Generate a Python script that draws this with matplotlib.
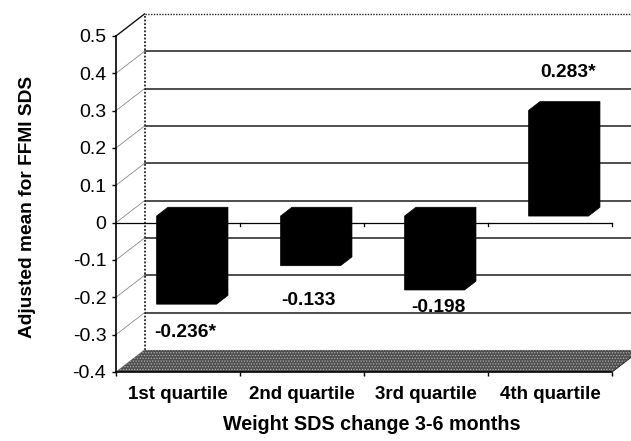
import matplotlib
matplotlib.use("Agg")
import matplotlib.pyplot as plt
from matplotlib.patches import Polygon
import numpy as np

plt.rcParams['font.family'] = ['Liberation Sans', 'DejaVu Sans']

# Data
categories = ["1st quartile", "2nd quartile", "3rd quartile", "4th quartile"]
values = [-0.236, -0.133, -0.198, 0.283]
value_labels = ["-0.236*", "-0.133", "-0.198", "0.283*"]
yticks = [-0.4, -0.3, -0.2, -0.1, 0.0, 0.1, 0.2, 0.3, 0.4, 0.5]
ytick_labels = ["-0.4", "-0.3", "-0.2", "-0.1", "0", "0.1", "0.2", "0.3", "0.4", "0.5"]

# label anchor points (category units, value units)
label_pos = [(0.56, -0.295), (1.55, -0.209), (2.60, -0.228), (3.645, 0.402)]

YMIN, YMAX = -0.4, 0.5
N = len(categories)
DX, DY = 0.23, 0.059        # depth of the 3-D box in data units
F0, F1 = 0.3, 0.7           # bar depth span as fraction of the box depth
BAR_W = 0.484

fig = plt.figure(figsize=(6.31, 4.41), dpi=100)
ax = fig.add_axes([116 / 631, 69 / 441, 496 / 631, 336 / 441])
ax.set_xlim(0, N)
ax.set_ylim(YMIN, YMAX)
ax.patch.set_visible(False)

# back wall gridlines
for v in yticks[1:-1]:
    ax.plot([DX, N + DX], [v + DY, v + DY], color="#303030", lw=1.2,
            clip_on=False, zorder=1)
# back wall top and left edge (dotted)
ax.plot([DX, N + DX], [YMAX + DY, YMAX + DY], color="#222222", lw=1.0,
        ls=(0, (1, 1)), clip_on=False, zorder=1)
ax.plot([DX, DX], [YMIN + DY, YMAX + DY], color="#222222", lw=1.3,
        ls=(0, (1, 1)), clip_on=False, zorder=1)

# side wall gridlines
for v in yticks[:-1]:
    ax.plot([0, DX], [v, v + DY], color="#8a8a8a", lw=0.6,
            clip_on=False, zorder=1)
ax.plot([0, DX], [YMAX, YMAX + DY], color="#111111", lw=1.0,
        clip_on=False, zorder=1)

# floor
floor = [(0, YMIN), (DX, YMIN + DY), (N + DX, YMIN + DY), (N, YMIN)]
ax.add_patch(Polygon(floor, closed=True, facecolor="#4e4e4e", edgecolor="none",
                     clip_on=False, zorder=2))
plt.rcParams['hatch.linewidth'] = 0.6
ax.add_patch(Polygon(floor, closed=True, facecolor="none", edgecolor="#b0b0b0",
                     hatch="......", lw=0, clip_on=False, zorder=2))
ax.plot([0, N], [YMIN, YMIN], color="black", lw=1.2, clip_on=False, zorder=3)
ax.plot([N, N + DX], [YMIN, YMIN + DY], color="#333333", lw=0.8,
        clip_on=False, zorder=3)

# category axis at zero
ax.plot([0, N], [0, 0], color="black", lw=0.9, clip_on=False, zorder=2)
for i in range(1, N + 1):
    ax.plot([i, i], [0, -0.01], color="black", lw=0.9, clip_on=False, zorder=2)

# bars
for i, v in enumerate(values):
    x0 = i + 0.5 - BAR_W / 2 + F0 * DX
    x1 = x0 + BAR_W
    lo, hi = min(0, v), max(0, v)
    ddx = (F1 - F0) * DX
    ddy = (F1 - F0) * DY
    ylo = lo + F0 * DY
    yhi = hi + F0 * DY
    pts = [(x0, ylo), (x0, yhi), (x0 + ddx, yhi + ddy), (x1 + ddx, yhi + ddy),
           (x1 + ddx, ylo + ddy), (x1, ylo)]
    ax.add_patch(Polygon(pts, closed=True, facecolor="black", edgecolor="black",
                         lw=0.5, clip_on=False, zorder=4))

# value labels
for (lx, ly), txt in zip(label_pos, value_labels):
    ax.text(lx, ly, txt, ha="center", va="center", fontsize=13.8,
            fontweight="bold", zorder=5)

# axes
for s in ["top", "right", "bottom"]:
    ax.spines[s].set_visible(False)
ax.spines["left"].set_linewidth(1.2)
ax.set_yticks(yticks)
ax.set_yticklabels(ytick_labels)
ax.tick_params(axis="y", direction="out", length=3, width=1, pad=4,
               labelsize=14)
ax.set_xticks(np.arange(N) + 0.5)
ax.set_xticklabels(categories, fontsize=13.5, fontweight="bold")
ax.set_xticks(np.arange(N + 1), minor=True)
ax.tick_params(axis="x", which="major", length=0, pad=10)
ax.tick_params(axis="x", which="minor", direction="out", length=3, width=1)

ax.set_xlabel("Weight SDS change 3-6 months", fontsize=14.2, fontweight="bold",
              va="center")
ax.xaxis.set_label_coords(0.516, -0.155)
ax.set_ylabel("Adjusted mean for FFMI SDS", fontsize=13.8, fontweight="bold",
              va="center")
ax.yaxis.set_label_coords(-0.178, 0.491)

fig.savefig("out.png", dpi=100)
